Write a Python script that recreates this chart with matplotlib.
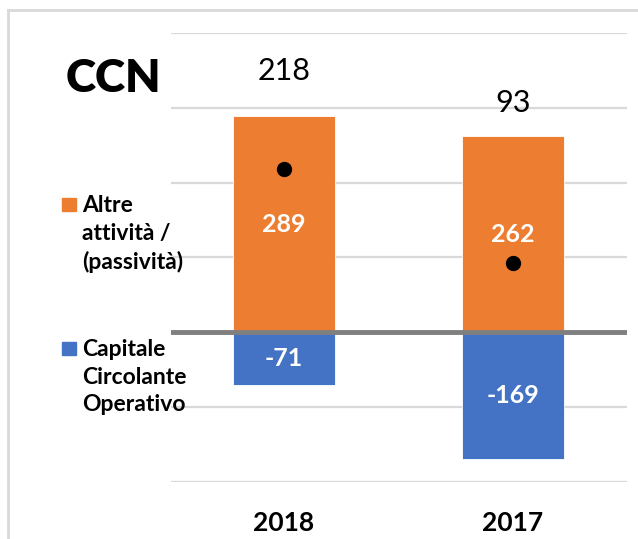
import matplotlib.pyplot as plt
from matplotlib.lines import Line2D

plt.rcParams['font.family'] = ['Lato', 'DejaVu Sans']

years = ['2018', '2017']
altre = [289, 262]          # Altre attività / (passività)
capitale = [-71, -169]      # Capitale Circolante Operativo
ccn = [218, 93]             # totale CCN

orange = '#ED7D31'
blue = '#4472C4'

fig = plt.figure(figsize=(6.38, 5.39), dpi=100)
ax = fig.add_axes([0.268, 0.1058, 0.7148, 0.833])

x = range(len(years))
ax.bar(x, altre, width=0.445, color=orange, edgecolor='white', linewidth=0.6, zorder=2)
ax.bar(x, capitale, width=0.445, color=blue, edgecolor='white', linewidth=0.6, zorder=2)
ax.plot(x, ccn, 'o', color='black', markersize=10, zorder=4)

# labels inside the bars
for i in x:
	ax.text(i, altre[i] / 2, str(altre[i]), ha='center', va='center', color='white',
			fontsize=18, fontweight='bold', zorder=5)
	ax.text(i, capitale[i] / 2, str(capitale[i]), ha='center', va='center', color='white',
			fontsize=18, fontweight='bold', zorder=5)

# totals above the bars
label_y = [349, 306]
for i in x:
	ax.text(i, label_y[i], str(ccn[i]), ha='center', va='center', color='black', fontsize=22)

ax.set_xlim(-0.493, 1.498)
ax.set_ylim(-200, 400)
ax.set_yticks([-200, -100, 0, 100, 200, 300, 400])
ax.yaxis.grid(True, color='#d9d9d9', linewidth=1.6, zorder=0)
ax.axhline(0, color='#7f7f7f', linewidth=3.5, zorder=3)
for s in ax.spines.values():
	s.set_visible(False)
ax.tick_params(left=False, bottom=False, labelleft=False, labelbottom=False)
for i in x:
	ax.text(i, -255, years[i], ha='center', va='center', fontsize=19, fontweight='bold')

# title and legend on the left
fig.text(66 / 638, 1 - 78 / 539, 'CCN', fontsize=33, fontweight='heavy', va='center', ha='left')

fig.patches.append(plt.Rectangle((62 / 638, 1 - 211 / 539), 14 / 638, 13 / 539,
	transform=fig.transFigure, color=orange))
fig.text(82 / 638, 1 - 234 / 539, 'Altre\nattività /\n(passività)', fontsize=16.5, fontweight='bold',
	va='center', ha='left', linespacing=1.38)
fig.patches.append(plt.Rectangle((62 / 638, 1 - 355 / 539), 14 / 638, 13 / 539,
	transform=fig.transFigure, color=blue))
fig.text(82 / 638, 1 - 377 / 539, 'Capitale\nCircolante\nOperativo', fontsize=16.5, fontweight='bold',
	va='center', ha='left', linespacing=1.38)

# outer frame
fig.add_artist(Line2D([8 / 638, 1], [1 - 10 / 539, 1 - 10 / 539], color='#d9d9d9', linewidth=2))
fig.add_artist(Line2D([8 / 638, 8 / 638], [0, 1 - 10 / 539], color='#d9d9d9', linewidth=2))

fig.savefig('out.png', dpi=100)
